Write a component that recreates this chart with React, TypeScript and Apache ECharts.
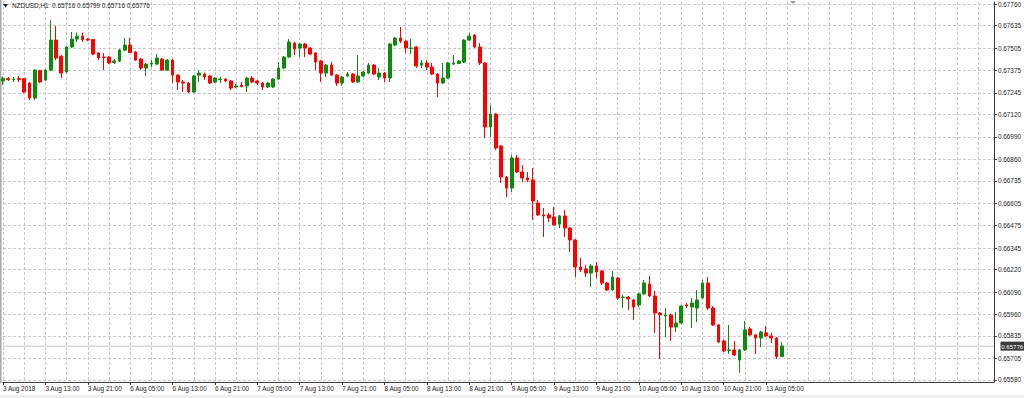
import React, { useEffect, useRef } from "react";
import * as echarts from "echarts";

// ---- DATA ----
const symbolName = "NZDUSD,H1";
const lastOHLC = [0.65716, 0.65799, 0.65716, 0.65776];
const currentPrice = 0.65776;

const openP = [
  0.67314, 0.67328, 0.67322, 0.67328, 0.67328, 0.67302, 0.67215, 0.67375, 0.67319, 0.67377,
  0.67551, 0.67458, 0.67366, 0.67511, 0.67557, 0.67574, 0.67557, 0.67554, 0.67476, 0.67453,
  0.67453, 0.67421, 0.6743, 0.67493, 0.67522, 0.67482, 0.67441, 0.67389, 0.67412, 0.67412,
  0.67441, 0.67377, 0.67435, 0.67348, 0.67308, 0.67302, 0.6725, 0.67348, 0.67354, 0.67343,
  0.67308, 0.67322, 0.67325, 0.67314, 0.67279, 0.6729, 0.67285, 0.67331, 0.67314, 0.67302,
  0.67279, 0.67279, 0.67325, 0.67389, 0.67453, 0.67534, 0.67505, 0.67528, 0.67505, 0.67476,
  0.6743, 0.6736, 0.67406, 0.67348, 0.67302, 0.67343, 0.67354, 0.67308, 0.67343, 0.6736,
  0.67406, 0.67337, 0.6736, 0.67331, 0.67522, 0.67563, 0.67545, 0.67502, 0.67511, 0.67406,
  0.67418, 0.67395, 0.67354, 0.67302, 0.67331, 0.67412, 0.67415, 0.67424, 0.67551, 0.6758,
  0.67511, 0.67418, 0.67047, 0.67122, 0.66937, 0.66757, 0.66693, 0.66867, 0.66786, 0.66751,
  0.6674, 0.66606, 0.66537, 0.66537, 0.66525, 0.66484, 0.66531, 0.66461, 0.66392, 0.66235,
  0.66224, 0.662, 0.66241, 0.66212, 0.66142, 0.66102, 0.66171, 0.66058, 0.66061, 0.66044,
  0.66015, 0.66079, 0.66137, 0.66067, 0.65968, 0.65951, 0.65957, 0.65887, 0.6591, 0.66015,
  0.66003, 0.65997, 0.66055, 0.66142, 0.65997, 0.65899, 0.65806, 0.65751, 0.65754, 0.65696,
  0.65754, 0.65876, 0.65841, 0.65823, 0.65853, 0.65835, 0.65823, 0.65716,
];
const closeP = [
  0.67328, 0.67322, 0.67325, 0.67322, 0.6725, 0.67215, 0.67377, 0.67308, 0.67377, 0.67551,
  0.67447, 0.6736, 0.67511, 0.67557, 0.67574, 0.67554, 0.67551, 0.6747, 0.67447, 0.6745,
  0.67418, 0.6743, 0.67493, 0.67522, 0.67479, 0.67435, 0.67389, 0.67412, 0.67418, 0.67447,
  0.67377, 0.67435, 0.67348, 0.67308, 0.67302, 0.6725, 0.67343, 0.6736, 0.67337, 0.67302,
  0.67331, 0.67325, 0.67314, 0.67273, 0.67285, 0.67282, 0.67331, 0.67308, 0.67302, 0.67279,
  0.67302, 0.67325, 0.67389, 0.67453, 0.6754, 0.67499, 0.67528, 0.67505, 0.6747, 0.67424,
  0.6736, 0.67406, 0.67348, 0.67302, 0.67337, 0.67354, 0.67308, 0.67343, 0.67366, 0.67406,
  0.67354, 0.6736, 0.67331, 0.67528, 0.67563, 0.67545, 0.67505, 0.67505, 0.67401, 0.67418,
  0.67395, 0.67354, 0.67302, 0.67331, 0.67418, 0.67418, 0.6743, 0.67551, 0.67574, 0.67511,
  0.67418, 0.67047, 0.67122, 0.66925, 0.66757, 0.66693, 0.66867, 0.66786, 0.66751, 0.6674,
  0.66618, 0.66537, 0.66531, 0.66519, 0.66479, 0.66531, 0.66461, 0.66392, 0.66235, 0.66218,
  0.662, 0.66241, 0.66206, 0.66142, 0.66102, 0.66177, 0.66055, 0.66061, 0.6605, 0.66003,
  0.66079, 0.66142, 0.66067, 0.65968, 0.65957, 0.65957, 0.65887, 0.6591, 0.66009, 0.66009,
  0.66026, 0.66044, 0.66142, 0.65997, 0.65899, 0.658, 0.65748, 0.65754, 0.65725, 0.65754,
  0.6587, 0.65841, 0.65823, 0.65858, 0.65835, 0.65823, 0.65716, 0.65776,
];
const lowP = [
  0.6729, 0.67314, 0.67308, 0.67308, 0.67244, 0.67203, 0.67203, 0.67302, 0.67314, 0.67372,
  0.67435, 0.67331, 0.6736, 0.67505, 0.6754, 0.6754, 0.67545, 0.67464, 0.67435, 0.67377,
  0.67412, 0.67412, 0.67424, 0.67487, 0.67476, 0.6743, 0.67377, 0.67343, 0.67395, 0.67406,
  0.67372, 0.67372, 0.67302, 0.67261, 0.6725, 0.67244, 0.67244, 0.67308, 0.67319, 0.67296,
  0.67302, 0.67302, 0.67308, 0.67261, 0.67273, 0.67276, 0.6725, 0.67302, 0.6729, 0.67261,
  0.67273, 0.67273, 0.67319, 0.67383, 0.67447, 0.67464, 0.67453, 0.67453, 0.67464, 0.67377,
  0.67308, 0.67337, 0.67343, 0.67285, 0.67285, 0.67337, 0.67302, 0.67302, 0.67337, 0.67354,
  0.67348, 0.67319, 0.67308, 0.67308, 0.67516, 0.67534, 0.67476, 0.6747, 0.67389, 0.67389,
  0.67377, 0.67348, 0.67221, 0.67296, 0.67325, 0.67406, 0.67412, 0.67418, 0.67545, 0.67505,
  0.67406, 0.66983, 0.66989, 0.66914, 0.66722, 0.66641, 0.6667, 0.6678, 0.66728, 0.66728,
  0.66508, 0.66531, 0.66409, 0.66496, 0.66473, 0.66461, 0.66409, 0.66322, 0.66177, 0.66206,
  0.66177, 0.66119, 0.66171, 0.66131, 0.66096, 0.66096, 0.66044, 0.65997, 0.65986, 0.65928,
  0.66003, 0.66073, 0.66061, 0.65853, 0.65702, 0.65829, 0.65806, 0.65858, 0.65905, 0.65997,
  0.65881, 0.65916, 0.6605, 0.65986, 0.65893, 0.65794, 0.65742, 0.65731, 0.65719, 0.65621,
  0.65748, 0.65835, 0.65731, 0.65771, 0.65829, 0.65794, 0.65702, 0.65716,
];
const highP = [
  0.6734, 0.67337, 0.67337, 0.67343, 0.67331, 0.67308, 0.67383, 0.67377, 0.67383, 0.67667,
  0.67632, 0.67464, 0.67516, 0.67598, 0.67595, 0.67595, 0.67563, 0.67557, 0.67482, 0.67476,
  0.67458, 0.67441, 0.67499, 0.67563, 0.67563, 0.67487, 0.67447, 0.67418, 0.67435, 0.6747,
  0.67447, 0.67441, 0.67441, 0.67354, 0.67319, 0.67308, 0.67348, 0.67377, 0.67363, 0.67348,
  0.67337, 0.67337, 0.67331, 0.67319, 0.67296, 0.67308, 0.67337, 0.67343, 0.67319, 0.67308,
  0.67308, 0.67331, 0.67424, 0.67458, 0.67557, 0.6754, 0.67534, 0.67534, 0.67511, 0.67482,
  0.67435, 0.67412, 0.67424, 0.67354, 0.67343, 0.67366, 0.6736, 0.67464, 0.67372, 0.67418,
  0.67412, 0.67389, 0.67366, 0.67534, 0.67569, 0.67627, 0.67551, 0.67557, 0.67516, 0.67435,
  0.67435, 0.67418, 0.6736, 0.67418, 0.67424, 0.67464, 0.67435, 0.67557, 0.67592, 0.67586,
  0.67534, 0.67424, 0.67174, 0.67128, 0.66942, 0.66763, 0.66885, 0.66885, 0.66826, 0.66786,
  0.66809, 0.66624, 0.66577, 0.66548, 0.66583, 0.66537, 0.66566, 0.66467, 0.66397, 0.66287,
  0.66247, 0.66252, 0.66264, 0.66218, 0.66148, 0.66212, 0.66177, 0.66073, 0.66067, 0.6605,
  0.66084, 0.6616, 0.66183, 0.66096, 0.65974, 0.65997, 0.65963, 0.65974, 0.66015, 0.66026,
  0.66055, 0.66102, 0.6616, 0.66177, 0.66009, 0.65905, 0.65812, 0.65899, 0.65806, 0.6576,
  0.65922, 0.65887, 0.65847, 0.65864, 0.65893, 0.65853, 0.65829, 0.65799,
];

const yTickValues = [
  0.6558, 0.65705, 0.65835, 0.6596, 0.6609, 0.6622, 0.66345, 0.66475, 0.66605,
  0.66735, 0.6686, 0.6699, 0.6712, 0.67245, 0.67375, 0.67505, 0.67635, 0.6776,
];
const xTickLabels = [
  "3 Aug 2018", "3 Aug 13:00", "3 Aug 21:00", "6 Aug 05:00", "6 Aug 13:00", "6 Aug 21:00",
  "7 Aug 05:00", "7 Aug 13:00", "7 Aug 21:00", "8 Aug 05:00", "8 Aug 13:00", "8 Aug 21:00",
  "9 Aug 05:00", "9 Aug 13:00", "9 Aug 21:00", "10 Aug 05:00", "10 Aug 13:00", "10 Aug 21:00",
  "13 Aug 05:00",
];
const totalSlots = 188; // bars + empty chart-shift area
const barsPerLabel = 8;
const barsPerGrid = 4;

const FONT = "'Liberation Sans', Arial, sans-serif";

export default function App() {
  const ref = useRef<HTMLDivElement>(null);
  useEffect(() => {
    document.body.style.margin = "0";
    if (!ref.current) return;
    const chart = echarts.init(ref.current, undefined, { renderer: "svg" });
    const categories = Array.from({ length: totalSlots }, (_, i) => String(i));
    const candles = openP.map((o, i) => [o, closeP[i], lowP[i], highP[i]]);
    const lastLabelIdx = (xTickLabels.length - 1) * barsPerLabel;
    const titleText =
      symbolName + "  " + lastOHLC.map((v) => v.toFixed(5)).join(" ");

    chart.setOption({
      animation: false,
      backgroundColor: "#ffffff",
      textStyle: { fontFamily: FONT },
      grid: { left: 2, right: 24, top: 2, bottom: 16, containLabel: false },
      xAxis: {
        type: "category",
        data: categories,
        boundaryGap: false,
        axisLine: { show: true, lineStyle: { color: "#3c3c3c", width: 1 } },
        axisTick: {
          show: true,
          length: 3,
          interval: (i: number) => i % barsPerLabel === 0 && i <= lastLabelIdx,
          lineStyle: { color: "#3c3c3c" },
        },
        axisLabel: {
          show: true,
          interval: (i: number) => i % barsPerLabel === 0 && i <= lastLabelIdx,
          formatter: (_v: string, i: number) => xTickLabels[i / barsPerLabel] ?? "",
          align: "left",
          margin: 3,
          fontSize: 6.4,
          color: "#1a1a1a",
          fontFamily: FONT,
        },
        splitLine: {
          show: true,
          interval: (i: number) => i % barsPerGrid === 0,
          lineStyle: { color: "#c8c8c8", type: [3, 2], width: 1 },
        },
      },
      yAxis: {
        type: "value",
        position: "right",
        min: 0.65568,
        max: 0.67772,
        scale: true,
        axisLine: { show: true, lineStyle: { color: "#3c3c3c", width: 1 } },
        axisTick: {
          show: true,
          length: 3,
          customValues: yTickValues,
          lineStyle: { color: "#3c3c3c" },
        },
        axisLabel: {
          show: true,
          customValues: yTickValues,
          formatter: (v: number) => v.toFixed(5),
          margin: 4,
          fontSize: 6.4,
          color: "#1a1a1a",
          fontFamily: FONT,
        },
        splitLine: {
          show: true,
          lineStyle: { color: "#c8c8c8", type: [3, 2], width: 1 },
        },
      },
      series: [
        {
          type: "line",
          data: [
            [categories[0], currentPrice],
            [categories[totalSlots - 1], currentPrice],
          ],
          symbol: "none",
          silent: true,
          lineStyle: { color: "#c4c4c4", width: 1, type: "solid" },
          z: 1,
        },
        {
          type: "candlestick",
          data: candles,
          barWidth: 3.2,
          z: 3,
          itemStyle: {
            color: "#0e8a0e",
            color0: "#ff0000",
            borderColor: "#0e8a0e",
            borderColor0: "#ff0000",
            borderWidth: 1,
          },
        },
      ],
    });

    // price tag on the right axis at the current price
    const py = chart.convertToPixel({ yAxisIndex: 0 }, currentPrice) as number;
    const gridRight = 1024 - 24;
    chart.setOption({
      graphic: [
        { type: "rect", shape: { x: 0, y: 0, width: 1.5, height: 383 }, style: { fill: "#a8a8a8" }, silent: true },
        { type: "rect", shape: { x: 0, y: 395, width: 1024, height: 3 }, style: { fill: "#eeeeee" }, silent: true },
        { type: "polygon", shape: { points: [[3, 4], [8, 4], [5.5, 7.5]] }, style: { fill: "#222222" }, silent: true },
        { type: "polygon", shape: { points: [[790, 1], [796, 1], [793, 4]] }, style: { fill: "#9a9a9a" }, silent: true },
        {
          type: "text", x: 12, y: 2.5, silent: true,
          style: { text: titleText, fill: "#1a1a1a", fontSize: 6.4, fontFamily: FONT },
        },
        {
          type: "rect", silent: true, z: 10,
          shape: { x: gridRight + 0.5, y: py - 4.5, width: 23.5, height: 9 },
          style: { fill: "#3a3a3a" },
        },
        {
          type: "text", silent: true, z: 11,
          x: gridRight + 1.2, y: py,
          style: {
            text: currentPrice.toFixed(5), fill: "#ffffff", fontSize: 6.1,
            fontFamily: FONT, verticalAlign: "middle", align: "left",
          },
        },
      ],
    });
    return () => chart.dispose();
  }, []);
  return <div ref={ref} style={{ width: 1024, height: 398 }} />;
}
